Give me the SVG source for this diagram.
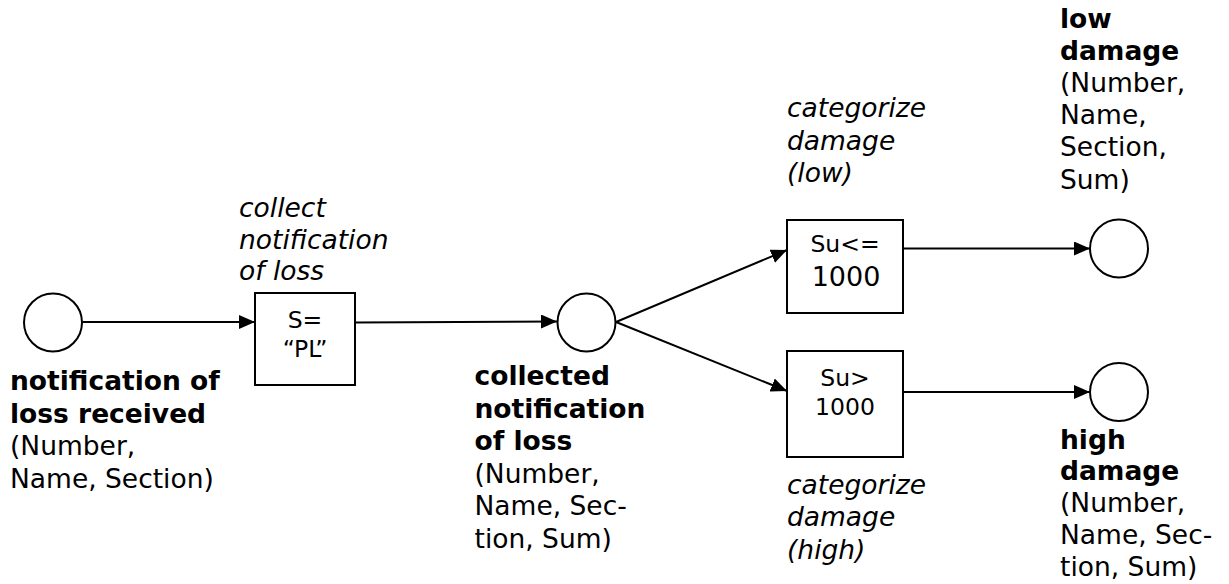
<svg xmlns="http://www.w3.org/2000/svg" width="1229" height="584" viewBox="0 0 1229 584">
<style>
  .place { fill: #fff; stroke: #000; stroke-width: 2; }
  .trans { fill: #fff; stroke: #000; stroke-width: 2; }
  .edge { fill: none; stroke: #000; stroke-width: 2; }
  text { font-family: "DejaVu Sans", Verdana, sans-serif; font-size: 26.5px; fill: #000; }
  .b { font-weight: bold; }
  .i { font-style: italic; }
  .box { font-size: 23.5px; text-anchor: middle; }
</style>
<defs>
  <marker id="arr" markerUnits="userSpaceOnUse" markerWidth="18" markerHeight="16" refX="16" refY="7" orient="auto">
    <path d="M0,0 L16,7 L0,14 z" fill="#000"/>
  </marker>
</defs>
<rect width="1229" height="584" fill="#fff"/>

<g id="connectors">
  <line class="edge" x1="82" y1="322" x2="255" y2="322" marker-end="url(#arr)"/>
  <line class="edge" x1="355" y1="322.5" x2="557" y2="321.5" marker-end="url(#arr)"/>
  <line class="edge" x1="616" y1="322" x2="787" y2="250" marker-end="url(#arr)"/>
  <line class="edge" x1="616" y1="322" x2="787" y2="391" marker-end="url(#arr)"/>
  <line class="edge" x1="903" y1="248.5" x2="1090" y2="248.5" marker-end="url(#arr)"/>
  <line class="edge" x1="903" y1="392" x2="1090" y2="392" marker-end="url(#arr)"/>
</g>

<g id="p-received">
  <circle class="place" cx="53" cy="322.5" r="29"/>
  <text class="b" x="10" y="390">notification of</text>
  <text class="b" x="10" y="422.5">loss received</text>
  <text x="10" y="455">(Number,</text>
  <text x="10" y="487.5">Name, Section)</text>
</g>

<g id="t-collect">
  <rect class="trans" x="255" y="293" width="100" height="92"/>
  <text class="box" x="305" y="328">S=</text>
  <text class="box" x="305" y="356.5">“PL”</text>
  <text class="i" x="239" y="217">collect</text>
  <text class="i" x="239" y="248.5">notification</text>
  <text class="i" x="239" y="280">of loss</text>
</g>

<g id="p-collected">
  <circle class="place" cx="586.5" cy="322.5" r="29"/>
  <text class="b" x="474.5" y="385">collected</text>
  <text class="b" x="474.5" y="417.5">notification</text>
  <text class="b" x="474.5" y="450">of loss</text>
  <text x="474.5" y="482.5">(Number,</text>
  <text x="474.5" y="515">Name, Sec-</text>
  <text x="474.5" y="547.5">tion, Sum)</text>
</g>

<g id="t-low">
  <rect class="trans" x="787" y="220" width="116" height="93"/>
  <text class="box" x="845" y="252">Su&lt;=</text>
  <text class="box" x="846" y="286" style="font-size:27px">1000</text>
  <text class="i" x="787" y="117">categorize</text>
  <text class="i" x="787" y="149.5">damage</text>
  <text class="i" x="787" y="182">(low)</text>
</g>

<g id="t-high">
  <rect class="trans" x="787" y="351" width="116" height="106"/>
  <text class="box" x="845" y="386">Su&gt;</text>
  <text class="box" x="845" y="414.5">1000</text>
  <text class="i" x="787" y="493.5">categorize</text>
  <text class="i" x="787" y="526">damage</text>
  <text class="i" x="787" y="558.5">(high)</text>
</g>

<g id="p-low">
  <circle class="place" cx="1119" cy="248.5" r="29"/>
  <text class="b" x="1060" y="27.5">low</text>
  <text class="b" x="1060" y="59.5">damage</text>
  <text x="1060" y="91.5">(Number,</text>
  <text x="1060" y="123.5">Name,</text>
  <text x="1060" y="156">Section,</text>
  <text x="1060" y="188.5">Sum)</text>
</g>

<g id="p-high">
  <circle class="place" cx="1119" cy="392" r="29"/>
  <text class="b" x="1060" y="448.5">high</text>
  <text class="b" x="1060" y="480">damage</text>
  <text x="1060" y="512">(Number,</text>
  <text x="1060" y="544">Name, Sec-</text>
  <text x="1060" y="576">tion, Sum)</text>
</g>
</svg>
